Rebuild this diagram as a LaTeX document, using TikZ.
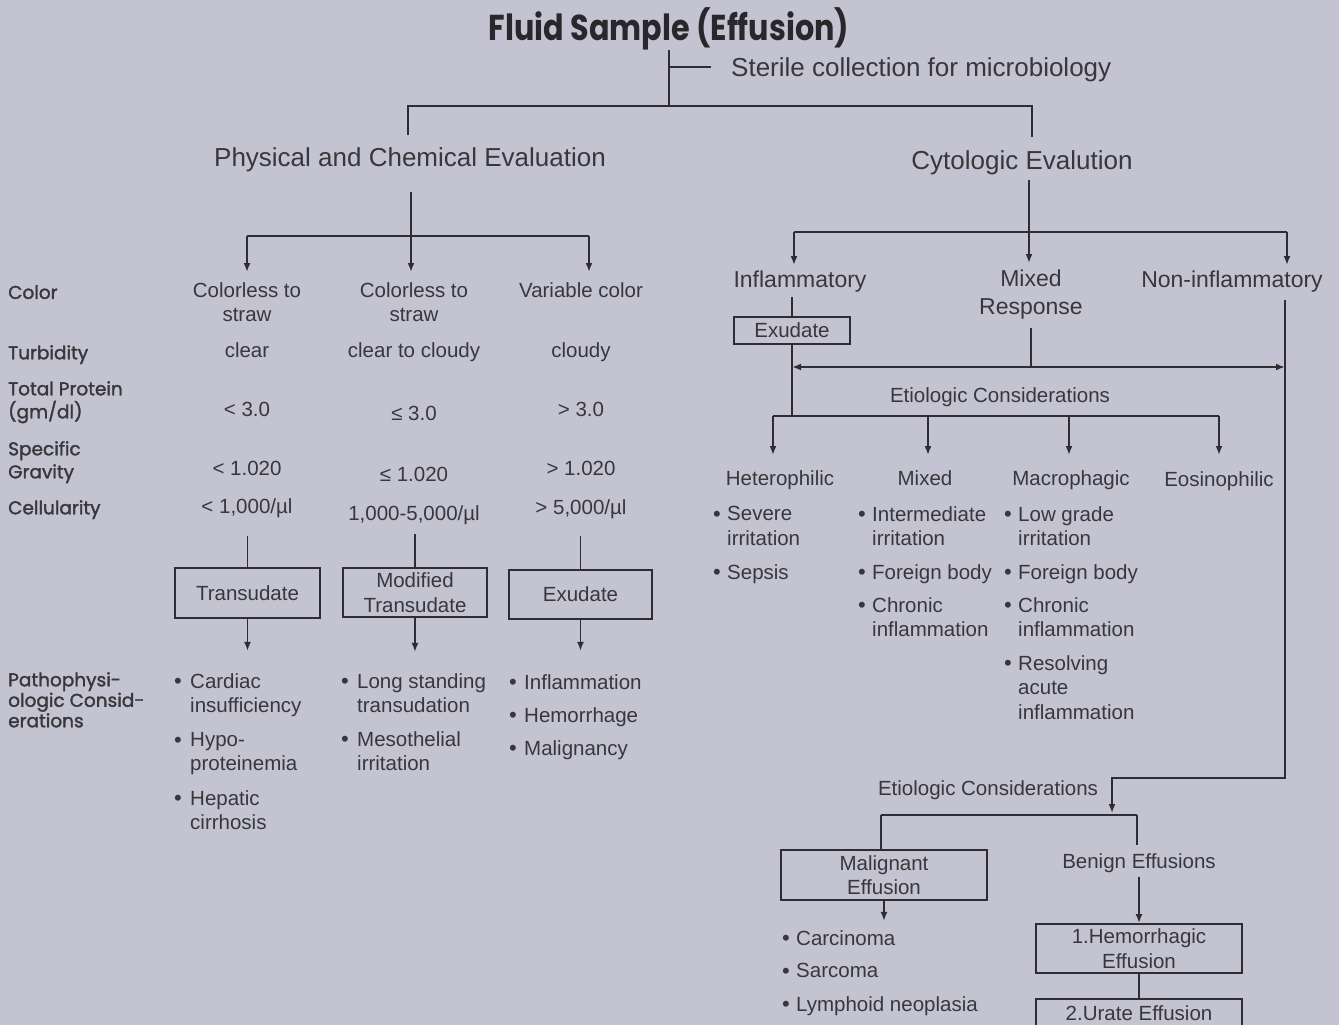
\documentclass[tikz,border=0pt]{standalone}
\usepackage{fontspec}
\usepackage{graphicx}
\setmainfont{Liberation Sans}
\newfontfamily\futura{Poppins}
\newfontfamily\futuralab{Poppins}[FakeBold=1.6]
\usetikzlibrary{arrows.meta}
\definecolor{bg}{RGB}{196,195,209}
\definecolor{ink}{RGB}{55,55,60}
\definecolor{linec}{RGB}{45,45,50}
\newcommand\bitem[5]{\node[btxt] (#1) at (#3,#4) {#5}; \node[bdot] (#1d) at (#2,#4) {•};}
\begin{document}
\begin{tikzpicture}[x=1pt,y=-1pt,
 every node/.style={text=ink,inner sep=0pt},
 body/.style={font=\fontsize{20.5}{24.5}\selectfont},
 t/.style={body,text height=15pt,text depth=4pt,yshift=-2pt},
 tm/.style={body,align=center,anchor=north,yshift=8pt},
 hd/.style={font=\fontsize{26}{30}\selectfont,text height=19pt,text depth=5pt,yshift=-2.5pt},
 sub/.style={font=\fontsize{23}{28}\selectfont,text height=17pt,text depth=5pt,yshift=-2pt},
 subm/.style={font=\fontsize{23}{28}\selectfont,align=center,anchor=north,yshift=9pt},
 lab/.style={font=\futuralab\fontsize{18.5}{23}\selectfont,anchor=north west,align=left,yshift=6pt},
 btxt/.style={body,anchor=north west,align=left,yshift=8pt},
 bdot/.style={font=\fontsize{22}{22}\selectfont,yshift=-2.5pt},
 bx/.style={draw=linec,line width=1.8pt},
 ln/.style={draw=linec,line width=1.8pt},
 arr/.style={ln,-{Latex[length=9pt,width=7pt]}},
]
\fill[bg] (0,0) rectangle (1339,1025);
\useasboundingbox (0,0) rectangle (1339,1025);

% title
\node[font=\futura\bfseries\fontsize{36}{40}\selectfont,text={rgb,255:red,40;green,40;blue,44}] (title) at (669,29) {\scalebox{0.84}[1]{Fluid Sample (Effusion)}};
\coordinate (j0) at (669,106);
\coordinate (js) at (669,67);
\coordinate (jt) at (711,67);
\draw[ln] (title.south) -- (j0);
\node[hd,anchor=west] (sterile) at (731,67) {Sterile collection for microbiology};
\draw[ln] (js) -- (jt);
\coordinate (pl) at (408,135);
\coordinate (cr) at (1032,137);
\draw[ln] (pl) |- (j0) -| (cr);

\node[hd] (phys) at (410,157) {Physical and Chemical Evaluation};
\node[hd] (cyto) at (1022,160) {Cytologic Evalution};

% physical branch
\coordinate (p1) at (411,192);
\coordinate (p2) at (411,236);
\coordinate (pa) at (247,236);
\coordinate (pc) at (589,236);
\draw[ln] (p1) -- (p2);
\draw[ln] (pa) -- (pc);
\coordinate (pa2) at (247,272);
\coordinate (pb2) at (411,272);
\coordinate (pc2) at (589,272);
\draw[arr] (pa) -- (pa2);
\draw[arr] (p2) -- (pb2);
\draw[arr] (pc) -- (pc2);

% row labels
\node[lab] (lcolor) at (8,291) {Color};
\node[lab] (lturb) at (8,351) {Turbidity};
\node[lab] (lprot) at (8,387) {Total Protein\\(gm/dl)};
\node[lab] (lgrav) at (8,447) {Specific\\Gravity};
\node[lab] (lcell) at (8,506) {Cellularity};
\node[lab,font=\futuralab\fontsize{18.5}{20.5}\selectfont] (lpath) at (8,678) {Pathophysi-\\ologic Consid-\\erations};

% columns
\node[tm] (c1) at (247,290) {Colorless to\\straw};
\node[tm] (c2) at (414,290) {Colorless to\\straw};
\node[t] (c3) at (581,290) {Variable color};
\node[t] (d1) at (247,350) {clear};
\node[t] (d2) at (414,350) {clear to cloudy};
\node[t] (d3) at (581,350) {cloudy};
\node[t] (e1n) at (247,409) {< 3.0};
\node[t] (e2n) at (414,413) {≤ 3.0};
\node[t] (e3n) at (581,409) {> 3.0};
\node[t] (f1) at (247,468) {< 1.020};
\node[t] (f2) at (414,474) {≤ 1.020};
\node[t] (f3) at (581,468) {> 1.020};
\node[t] (g1) at (247,506) {< 1,000/µl};
\node[t] (g2) at (414,513) {1,000-5,000/µl};
\node[t] (g3) at (581,507) {> 5,000/µl};

% boxes
\node[bx,body,minimum width=145pt,minimum height=50pt] (tr) at (247.5,593) {Transudate};
\node[bx,body,align=center,minimum width=144pt,minimum height=49pt] (mt) at (415,592.5) {Modified\\Transudate};
\node[bx,body,minimum width=143pt,minimum height=49pt] (ex) at (580.5,594.5) {Exudate};
\draw[ln] ([yshift=31pt]tr.north) -- (tr.north);
\draw[ln] ([yshift=33pt]mt.north) -- (mt.north);
\draw[ln] ([yshift=33pt]ex.north) -- (ex.north);
\draw[arr] (tr.south) -- ([yshift=-32pt]tr.south);
\draw[arr] (mt.south) -- ([yshift=-34pt]mt.south);
\draw[arr] (ex.south) -- ([yshift=-31pt]ex.south);

% bullets left
\bitem{b11}{178}{190}{681}{Cardiac\\insufficiency}
\bitem{b12}{178}{190}{740}{Hypo-\\proteinemia}
\bitem{b13}{178}{190}{798}{Hepatic\\cirrhosis}
\bitem{b21}{345}{357}{681}{Long standing\\transudation}
\bitem{b22}{345}{357}{739}{Mesothelial\\irritation}
\bitem{b31}{513}{524}{682}{Inflammation}
\bitem{b32}{513}{524}{715}{Hemorrhage}
\bitem{b33}{513}{524}{748}{Malignancy}

% cytologic branch
\coordinate (r0) at (1029,180);
\coordinate (r1) at (1029,232);
\coordinate (ra) at (794,232);
\coordinate (rc) at (1287,232);
\draw[ln] (r0) -- (r1);
\draw[ln] (ra) -- (rc);
\coordinate (ra2) at (794,265);
\coordinate (rb2) at (1029,263);
\coordinate (rc2) at (1287,265);
\draw[arr] (ra) -- (ra2);
\draw[arr] (r1) -- (rb2);
\draw[arr] (rc) -- (rc2);

\node[sub] (inf) at (800,279) {Inflammatory};
\node[subm] (mix) at (1031,279) {Mixed\\Response};
\node[sub] (noninf) at (1232,279) {Non-inflammatory};

\node[bx,body,minimum width=116pt,minimum height=27pt] (ex2) at (792,330.5) {Exudate};
\coordinate (i1) at (792,297);
\draw[ln] (i1) -- (ex2.north);
\coordinate (e1) at (792,416);
\draw[ln] (ex2.south) -- (e1);
\coordinate (m1) at (1031,328);
\coordinate (m2) at (1031,367);
\draw[ln] (m1) -- (m2);
\coordinate (dl) at (792,367);
\coordinate (dr) at (1285,367);
\draw[arr] (m2) -- (dl);
\draw[arr] (m2) -- (dr);
\coordinate (n1) at (1285,300);
\coordinate (n2) at (1285,778);
\coordinate (n3) at (1112,813);
\draw[arr] (n1) -- (n2) -| (n3);

\node[t] (etio1) at (1000,395) {Etiologic Considerations};
\coordinate (ea) at (773,416);
\coordinate (eb) at (928,416);
\coordinate (ec) at (1069,416);
\coordinate (ed) at (1219,416);
\draw[ln] (ea) -- (ed);
\coordinate (ea2) at (773,455);
\coordinate (eb2) at (928,455);
\coordinate (ec2) at (1069,455);
\coordinate (ed2) at (1219,455);
\draw[arr] (ea) -- (ea2);
\draw[arr] (eb) -- (eb2);
\draw[arr] (ec) -- (ec2);
\draw[arr] (ed) -- (ed2);

\node[t] (het) at (780,478) {Heterophilic};
\node[t] (mxd) at (925,478) {Mixed};
\node[t] (mac) at (1071,478) {Macrophagic};
\node[t] (eos) at (1219,479) {Eosinophilic};

\bitem{h1}{717}{727}{514}{Severe\\irritation}
\bitem{h2}{717}{727}{572}{Sepsis}
\bitem{x1}{862}{872}{514}{Intermediate\\irritation}
\bitem{x2}{862}{872}{572}{Foreign body}
\bitem{x3}{862}{872}{605}{Chronic\\inflammation}
\bitem{a1}{1008}{1018}{514}{Low grade\\irritation}
\bitem{a2}{1008}{1018}{572}{Foreign body}
\bitem{a3}{1008}{1018}{605}{Chronic\\inflammation}
\bitem{a4}{1008}{1018}{663}{Resolving\\acute\\inflammation}

% bottom branch
\node[t] (etio2) at (988,788) {Etiologic Considerations};
\coordinate (ba) at (881,815);
\coordinate (bb) at (1137,815);
\draw[ln] (ba) -- (bb);
\node[bx,body,align=center,minimum width=206pt,minimum height=50pt] (mal) at (884,875) {Malignant\\Effusion};
\draw[ln] (ba) -- (ba |- mal.north);
\coordinate (bb2) at (1137,845);
\draw[ln] (bb) -- (bb2);
\draw[arr] (mal.south) -- ([yshift=-20pt]mal.south);
\bitem{m1b}{786}{796}{938}{Carcinoma}
\bitem{m2b}{786}{796}{971}{Sarcoma}
\bitem{m3b}{786}{796}{1004}{Lymphoid neoplasia}

\node[t] (ben) at (1139,861) {Benign Effusions};
\node[bx,body,align=center,minimum width=206pt,minimum height=49pt] (hem) at (1139,948.5) {1.Hemorrhagic\\Effusion};
\draw[arr] ([yshift=-4pt]ben.south) -- (hem.north);
\node[bx,body,minimum width=206pt,minimum height=28pt] (ur) at (1139,1013) {2.Urate Effusion};
\draw[ln] (hem.south) -- (ur.north);
\end{tikzpicture}
\end{document}
